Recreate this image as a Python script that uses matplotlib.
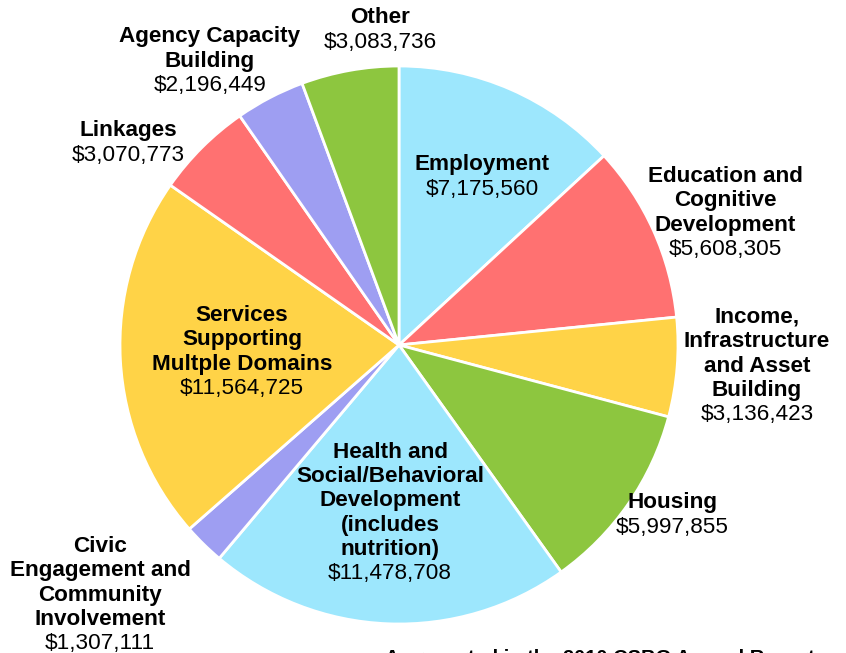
import matplotlib
matplotlib.use("Agg")
import matplotlib.pyplot as plt

# CSBG expenditures by domain, clockwise from 12 o'clock
names = [
    "Employment",
    "Education and\nCognitive\nDevelopment",
    "Income,\nInfrastructure\nand Asset\nBuilding",
    "Housing",
    "Health and\nSocial/Behavioral\nDevelopment\n(includes\nnutrition)",
    "Civic\nEngagement and\nCommunity\nInvolvement",
    "Services\nSupporting\nMultple Domains",
    "Linkages",
    "Agency Capacity\nBuilding",
    "Other",
]
amounts = [7175560, 5608305, 3136423, 5997855, 11478708,
           1307111, 11564725, 3070773, 2196449, 3083736]
colors = ["#9DE7FD", "#FF7171", "#FFD347", "#8DC63F", "#9DE7FD",
          "#9E9EF2", "#FFD347", "#FF7171", "#9E9EF2", "#8DC63F"]

# label block centres in pixels (x, y from top)
label_pos = [(482, 177), (725, 213), (757, 366), (672, 515), (390, 513),
             (100, 595), (242, 352), (128, 143), (210, 61), (380, 30)]

W, H = 846, 653
fig = plt.figure(figsize=(W / 100, H / 100), dpi=100)
cx, cy, r = 399, 345, 279
ax = fig.add_axes([(cx - r) / W, (H - cy - r) / H, 2 * r / W, 2 * r / H])
ax.pie(amounts, colors=colors, startangle=90, counterclock=False,
       wedgeprops=dict(edgecolor="white", linewidth=2))
ax.set_xlim(-1, 1)
ax.set_ylim(-1, 1)
ax.set_aspect("auto")
ax.axis("off")

font = "Liberation Sans"
step = 24.4
for name, amt, (x, y) in zip(names, amounts, label_pos):
    lines = name.split("\n")
    n = len(lines) + 1
    for i, line in enumerate(lines + [f"${amt:,}"]):
        ly = y + (i - (n - 1) / 2) * step
        fig.text(x / W, 1 - ly / H, line, ha="center", va="center",
                 fontsize=16.2, family=font,
                 fontweight="bold" if i < n - 1 else "normal")

# source note, runs off the bottom edge
fig.text(385 / W, 1 - 649 / H, "As reported in the 2010 CSBG Annual Report",
         ha="left", va="top", fontsize=14.5, family=font, fontweight="bold")

fig.savefig("out.png", dpi=100, facecolor="white")
